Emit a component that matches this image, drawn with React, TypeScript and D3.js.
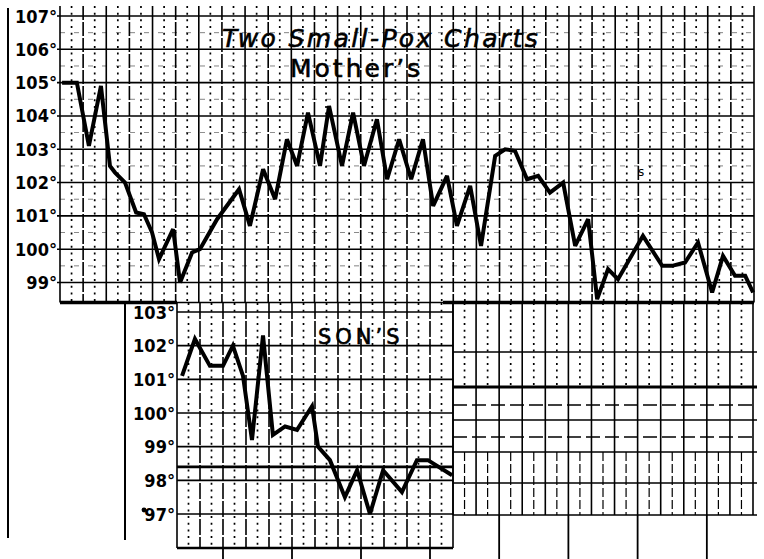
import React from 'react';
import * as d3 from 'd3';

// mother's chart: day position (column units) and temperature (°F)
const motherDays = [
  0.09, 0.73, 1.25, 1.77, 2.16, 2.38, 2.81, 3.29, 3.63, 3.98,
  4.28, 4.89, 5.19, 5.71, 6.05, 6.79, 7.74, 8.21, 8.78, 9.3,
  9.81, 10.25, 10.72, 11.24, 11.63, 12.19, 12.67, 13.14, 13.7, 14.14,
  14.66, 15.18, 15.69, 16.13, 16.73, 17.16, 17.73, 18.2, 18.81, 19.24,
  19.67, 20.19, 20.67, 21.18, 21.75, 22.27, 22.83, 23.22, 23.69, 24.12,
  25.2, 26.03, 26.46, 27.02, 27.58, 28.19, 28.66, 29.18, 29.62, 29.96,
];
const motherTemps = [
  105.0, 105.0, 103.1, 104.9, 102.5, 102.3, 102.0, 101.1, 101.05, 100.5,
  99.7, 100.6, 99.0, 99.9, 100.0, 100.9, 101.8, 100.7, 102.4, 101.5,
  103.3, 102.5, 104.1, 102.5, 104.3, 102.5, 104.1, 102.5, 103.9, 102.1,
  103.3, 102.1, 103.3, 101.3, 102.2, 100.7, 101.9, 100.1, 102.8, 103.0,
  102.95, 102.1, 102.2, 101.7, 102.0, 100.1, 100.9, 98.5, 99.4, 99.1,
  100.4, 99.5, 99.5, 99.6, 100.2, 98.7, 99.8, 99.2, 99.2, 98.7,
];

// son's chart
const sonDays = [
  0.22, 0.78, 1.43, 2.0, 2.43, 2.87, 3.26, 3.74, 4.17, 4.7, 5.22,
  5.87, 6.13, 6.65, 7.3, 7.83, 8.39, 8.96, 9.78, 10.43, 10.91, 11.96,
];
const sonTemps = [
  101.1, 102.2, 101.4, 101.4, 102.0, 101.1, 99.2, 102.3, 99.35, 99.6, 99.5,
  100.2, 99.0, 98.6, 97.5, 98.3, 97.0, 98.3, 97.65, 98.6, 98.6, 98.15,
];

const motherTicks = [99, 100, 101, 102, 103, 104, 105, 106, 107];
const motherTickLabels = ['99°', '100°', '101°', '102°', '103°', '104°', '105°', '106°', '107°'];
const sonTicks = [97, 98, 99, 100, 101, 102, 103];
const sonTickLabels = ['97°', '98°', '99°', '100°', '101°', '102°', '103°'];
const normalTemp = 98.4;

const W = 764;
const H = 559;

const x = d3.scaleLinear().domain([0, 30]).range([60, 754]);
const yM = d3.scaleLinear().domain([normalTemp, 107]).range([302.5, 16]);
const xS = d3.scaleLinear().domain([0, 12]).range([177, 453]);
const yS = d3.scaleLinear().domain([97, 103]).range([514, 312]);
const xR = d3.scaleLinear().domain([0, 13]).range([453, 753]);

const ink = '#000';
const labelFont = "'Liberation Sans Narrow', 'DejaVu Sans Condensed', sans-serif";
const handFont = "'DejaVu Sans', sans-serif";
const dots = '2 4.66';

export default function App() {
  const motherLine = d3.line<number>()
    .x((_, i) => x(motherDays[i]))
    .y(d => yM(d));
  const sonLine = d3.line<number>()
    .x((_, i) => xS(sonDays[i]))
    .y(d => yS(d));

  const cols = d3.range(0, 31);
  const sonCols = d3.range(0, 13);
  const rightCols = d3.range(0, 14);

  return (
    <svg width={W} height={H} style={{ position: 'absolute', left: 0, top: 0, background: '#fff' }}>
      {/* page edge lines */}
      <line x1={8} x2={8} y1={8} y2={538} stroke={ink} strokeWidth={2} />
      <line x1={125} x2={125} y1={303} y2={540} stroke={ink} strokeWidth={2} />

      {/* mother's grid */}
      <g>
        {cols.map(k => (
          <line key={'mv' + k} x1={x(k)} x2={x(k)} y1={6} y2={302.5} stroke={ink} strokeWidth={1.6}
            strokeDasharray={k % 2 ? '14 2' : undefined} />
        ))}
        {cols.slice(0, 30).map(k => (
          <line key={'mm' + k} x1={x(k + 0.5)} x2={x(k + 0.5)} y1={6} y2={302.5} stroke={ink}
            strokeWidth={1.7} strokeDasharray={dots} />
        ))}
        {motherTicks.map(t => (
          <line key={'mh' + t} x1={57} x2={x(30)} y1={yM(t)} y2={yM(t)} stroke={ink} strokeWidth={1.6} />
        ))}
        {motherTicks.slice(0, -1).map(t => (
          <line key={'mhh' + t} x1={x(0)} x2={x(30)} y1={yM(t + 0.5)} y2={yM(t + 0.5)} stroke={ink}
            strokeWidth={0.8} strokeDasharray="5 9" opacity={0.6} />
        ))}
        <line x1={x(0)} x2={xS(0)} y1={yM(normalTemp)} y2={yM(normalTemp)} stroke={ink} strokeWidth={3.5} />
        <line x1={xS(0)} x2={443} y1={yM(normalTemp)} y2={yM(normalTemp)} stroke={ink} strokeWidth={1.4} />
        <line x1={443} x2={x(30)} y1={yM(normalTemp)} y2={yM(normalTemp)} stroke={ink} strokeWidth={3.5} />
        {motherTicks.map((t, i) => (
          <text key={'ml' + t} x={57} y={yM(t) + 6.5} textAnchor="end" fontFamily={labelFont}
            fontWeight="bold" fontSize={18} fill={ink}>{motherTickLabels[i]}</text>
        ))}
      </g>

      {/* son's grid */}
      <g>
        {sonCols.map(k => (
          <line key={'sv' + k} x1={xS(k)} x2={xS(k)} y1={303} y2={548} stroke={ink} strokeWidth={1.6}
            strokeDasharray={k === 0 || k === 12 ? undefined : '16 2'} />
        ))}
        {sonCols.slice(0, 12).map(k => (
          <line key={'sm' + k} x1={xS(k + 0.5)} x2={xS(k + 0.5)} y1={303} y2={548} stroke={ink}
            strokeWidth={1.7} strokeDasharray={dots} />
        ))}
        {sonTicks.map(t => (
          <line key={'sh' + t} x1={xS(0)} x2={xS(12)} y1={yS(t)} y2={yS(t)} stroke={ink} strokeWidth={1.6} />
        ))}
        <line x1={xS(0)} x2={xS(12)} y1={yS(normalTemp)} y2={yS(normalTemp)} stroke={ink} strokeWidth={2.6} />
        <line x1={xS(0)} x2={xS(12)} y1={548} y2={548} stroke={ink} strokeWidth={2.6} />
        {[2, 5, 8, 11].map(k => (
          <line key={'st' + k} x1={xS(k)} x2={xS(k)} y1={548} y2={559} stroke={ink} strokeWidth={1.8} />
        ))}
        {sonTicks.map((t, i) => (
          <text key={'sl' + t} x={175} y={yS(t) + 6.5} textAnchor="end" fontFamily={labelFont}
            fontWeight="bold" fontSize={18} fill={ink}>{sonTickLabels[i]}</text>
        ))}
        <circle cx={144} cy={yS(97) - 4} r={2.4} fill={ink} />
      </g>

      {/* right-hand sheet */}
      <g>
        {rightCols.map(k => (
          <line key={'rv' + k} x1={xR(k)} x2={xR(k)} y1={303} y2={515} stroke={ink} strokeWidth={1.6} />
        ))}
        {rightCols.slice(0, 13).map(k => (
          <g key={'rm' + k}>
            <line x1={xR(k + 0.5)} x2={xR(k + 0.5)} y1={303} y2={387} stroke={ink}
              strokeWidth={1.7} strokeDasharray={dots} />
            <line x1={xR(k + 0.5)} x2={xR(k + 0.5)} y1={452} y2={515} stroke={ink}
              strokeWidth={1.2} strokeDasharray="9 3" />
          </g>
        ))}
        {[352, 420, 452, 483, 515].map(yy => (
          <line key={'rh' + yy} x1={xR(0)} x2={757} y1={yy} y2={yy} stroke={ink} strokeWidth={1.6} />
        ))}
        {[405, 437].map(yy => (
          <line key={'rd' + yy} x1={xR(0)} x2={757} y1={yy} y2={yy} stroke={ink} strokeWidth={1.3}
            strokeDasharray="14 5" />
        ))}
        <line x1={xR(0)} x2={757} y1={387} y2={387} stroke={ink} strokeWidth={3} />
        {[2, 5, 8, 11].map(k => (
          <line key={'rt' + k} x1={xR(k)} x2={xR(k)} y1={515} y2={559} stroke={ink} strokeWidth={1.8} />
        ))}
      </g>

      {/* temperature curves */}
      <path d={motherLine(motherTemps) || ''} fill="none" stroke={ink} strokeWidth={4}
        strokeLinejoin="miter" strokeMiterlimit={3} />
      <path d={sonLine(sonTemps) || ''} fill="none" stroke={ink} strokeWidth={4}
        strokeLinejoin="miter" strokeMiterlimit={3} />

      {/* hand-lettered titles */}
      <text x={222} y={47} fontFamily={handFont} fontStyle="italic" fontSize={25} letterSpacing={2.4}
        fill={ink} stroke={ink} strokeWidth={0.6}>Two Small-Pox Charts</text>
      <text x={290} y={77} fontFamily={handFont} fontSize={25} letterSpacing={3} fill={ink}
        stroke={ink} strokeWidth={0.6}>Mother’s</text>
      <text x={318} y={344} fontFamily={handFont} fontSize={21} letterSpacing={4}
        style={{ textTransform: 'uppercase' }} fill={ink} stroke={ink} strokeWidth={0.6}>Son’s</text>
      <text x={638} y={176} fontFamily={handFont} fontSize={12} fill={ink}>s</text>
    </svg>
  );
}
